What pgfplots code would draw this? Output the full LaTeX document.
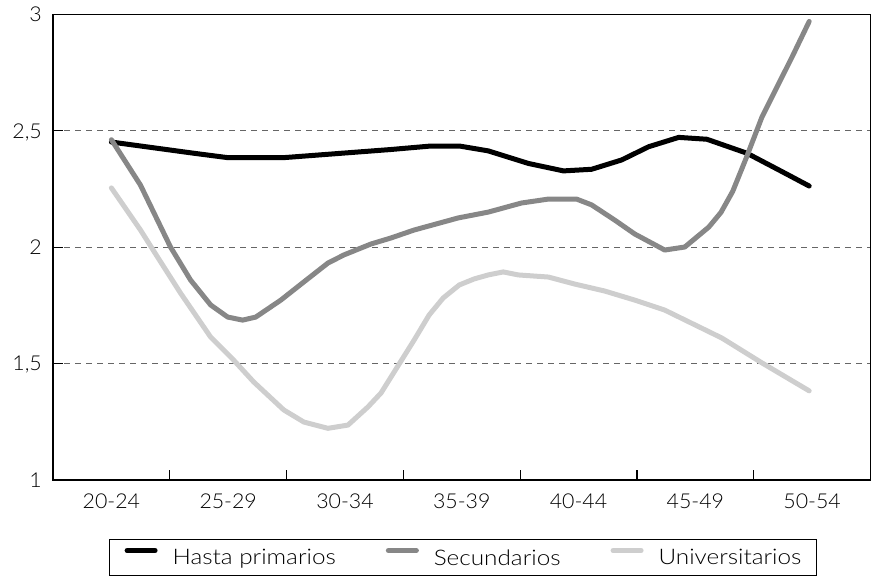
\documentclass[border=0pt]{standalone}
\usepackage{fontspec}
\setmainfont{Lato}[UprightFont=* Light, FakeStretch=1.13]
\newfontfamily\tickfont{Lato}[UprightFont=* Light, FakeStretch=1.04]
\usepackage{pgfplots}
\pgfplotsset{compat=1.18}
\begin{document}
\begin{tikzpicture}
\begin{axis}[
  scale only axis, width=817.5pt, height=465.5pt,
  xmin=-0.5, xmax=6.5, ymin=1, ymax=3,
  axis line style={line width=1.2pt, black},
  tick align=inside, tick pos=left,
  major tick length=10pt,
  every tick/.style={black, line width=1.2pt},
  xtick={-0.5,0.5,1.5,2.5,3.5,4.5,5.5,6.5},
  x tick label as interval,
  xticklabels={20-24,25-29,30-34,35-39,40-44,45-49,50-54},
  ytick={1,1.5,2,2.5,3},
  yticklabels={1,{1,5},2,{2,5},3},
  ymajorgrids,
  grid style={black!60, line width=1pt, dash pattern=on 6pt off 5pt},
  tick label style={font=\tickfont\fontsize{20.5}{24}\selectfont},
  xticklabel style={inner sep=0pt, anchor=north, yshift=-14pt},
  yticklabel style={inner sep=0pt, anchor=east, text depth=0pt, xshift=-11pt},
  legend columns=3,
  legend style={at={(0.0685,-0.1267)}, anchor=north west, draw=black, line width=1.2pt,
    inner xsep=15pt, inner ysep=8.5pt, font=\fontsize{21.5}{25}\selectfont,
    /tikz/every odd column/.append style={column sep=15pt},
    /tikz/every even column/.append style={column sep=50pt},
    nodes={inner sep=0pt}},
  legend image code/.code={\draw[#1, line cap=round] (2.5pt,7.5pt) -- (30.5pt,7.5pt);},
  every axis plot/.append style={line width=5pt, line cap=round, line join=round},
]
\addplot[black] coordinates {
(0,2.452) (0.704,2.404) (0.996,2.385) (1.476,2.385) (2.395,2.420) (2.738,2.435)
(2.979,2.435) (3.227,2.414) (3.571,2.360) (3.871,2.328) (4.112,2.335) (4.369,2.375)
(4.601,2.432) (4.858,2.472) (5.099,2.464) (5.442,2.404) (5.742,2.325) (5.975,2.263)};
\addlegendentry{Hasta primarios}
\addplot[color={rgb,255:red,135;green,135;blue,135}] coordinates {
(0,2.462) (0.249,2.267) (0.506,2.001) (0.678,1.859) (0.850,1.752) (0.996,1.700)
(1.124,1.687) (1.236,1.700) (1.451,1.773) (1.648,1.851) (1.854,1.932) (1.991,1.967)
(2.223,2.014) (2.395,2.040) (2.592,2.074) (2.970,2.126) (3.227,2.151) (3.511,2.190)
(3.742,2.207) (3.983,2.207) (4.112,2.182) (4.309,2.117) (4.481,2.057) (4.738,1.988)
(4.910,2.001) (5.116,2.087) (5.220,2.150) (5.320,2.240) (5.433,2.380) (5.571,2.560) (5.717,2.706)
(5.828,2.817) (5.975,2.970)};
\addlegendentry{Secundarios}
\addplot[color={rgb,255:red,206;green,206;blue,206}] coordinates {
(0,2.255) (0.249,2.074) (0.395,1.958) (0.592,1.803) (0.850,1.614) (1.047,1.515)
(1.219,1.421) (1.476,1.301) (1.648,1.249) (1.854,1.222) (2.026,1.236) (2.197,1.314)
(2.309,1.374) (2.592,1.601) (2.721,1.709) (2.841,1.782) (2.979,1.838) (3.107,1.864)
(3.227,1.881) (3.356,1.894) (3.485,1.881) (3.742,1.872) (3.966,1.842) (4.223,1.812)
(4.481,1.773) (4.738,1.730) (5.227,1.610) (5.571,1.503) (5.975,1.383)};
\addlegendentry{Universitarios}
\end{axis}
\pgfresetboundingbox
\path[use as bounding box] (-53pt,-98pt) rectangle (819pt,480pt);
\end{tikzpicture}
\end{document}
